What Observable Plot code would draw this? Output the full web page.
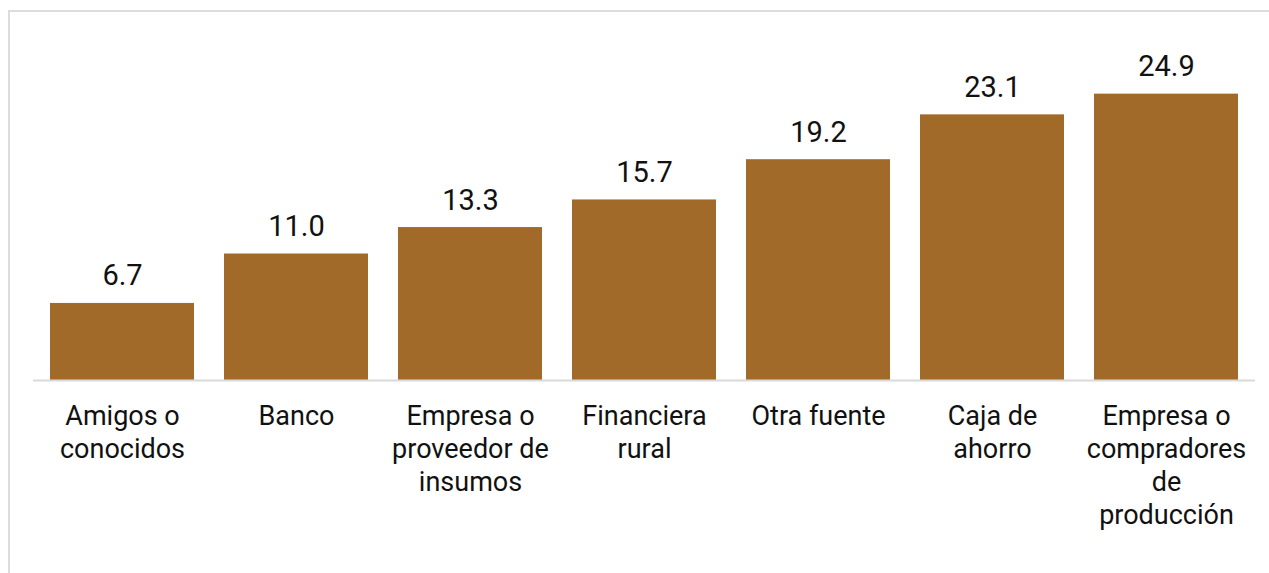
<!DOCTYPE html>
<html>
<head>
<meta charset="utf-8">
<script src="https://cdn.jsdelivr.net/npm/d3@7"></script>
<script src="https://cdn.jsdelivr.net/npm/@observablehq/plot@0.6"></script>
<style>
  html, body { margin: 0; padding: 0; background: #fff; overflow: hidden; }
  #frame { position: absolute; left: 8px; top: 10px; width: 1400px; height: 700px; border: 2px solid #dcdcdc; box-sizing: border-box; }
  #chart { position: absolute; left: 0; top: 0; }
</style>
</head>
<body>
<div id="frame"></div>
<div id="chart"></div>
<script>
const categories = ["Amigos o conocidos", "Banco", "Empresa o proveedor de insumos", "Financiera rural", "Otra fuente", "Caja de ahorro", "Empresa o compradores de producción"];
const values = [6.7, 11.0, 13.3, 15.7, 19.2, 23.1, 24.9];
const tickLabels = ["Amigos o\nconocidos", "Banco", "Empresa o\nproveedor de\ninsumos", "Financiera\nrural", "Otra fuente", "Caja de\nahorro", "Empresa o\ncompradores\nde\nproducción"];

const data = categories.map((c, i) => ({category: c, value: values[i], label: tickLabels[i]}));

const chart = Plot.plot({
  width: 1269,
  height: 573,
  marginLeft: 33,
  marginRight: 14,
  marginTop: 35,
  marginBottom: 193,
  style: {fontFamily: "Roboto, sans-serif", background: "transparent"},
  x: {domain: categories, paddingInner: 0.17, paddingOuter: 0.085, axis: null},
  y: {domain: [0, 30], axis: null},
  marks: [
    Plot.barY(data, {x: "category", y: "value", fill: "#a26a29"}),
    Plot.ruleY([0], {stroke: "#d9d9d9", strokeWidth: 2}),
    Plot.text(data, {x: "category", y: "value", text: d => d.value.toFixed(1), lineAnchor: "bottom", dy: -18, fontSize: 29, fill: "#111"}),
    Plot.text(data, {x: "category", y: 0, text: "label", lineAnchor: "top", dy: 21, fontSize: 27, lineHeight: 1.22, fill: "#111"})
  ]
});
document.getElementById("chart").appendChild(chart);
</script>
</body>
</html>
